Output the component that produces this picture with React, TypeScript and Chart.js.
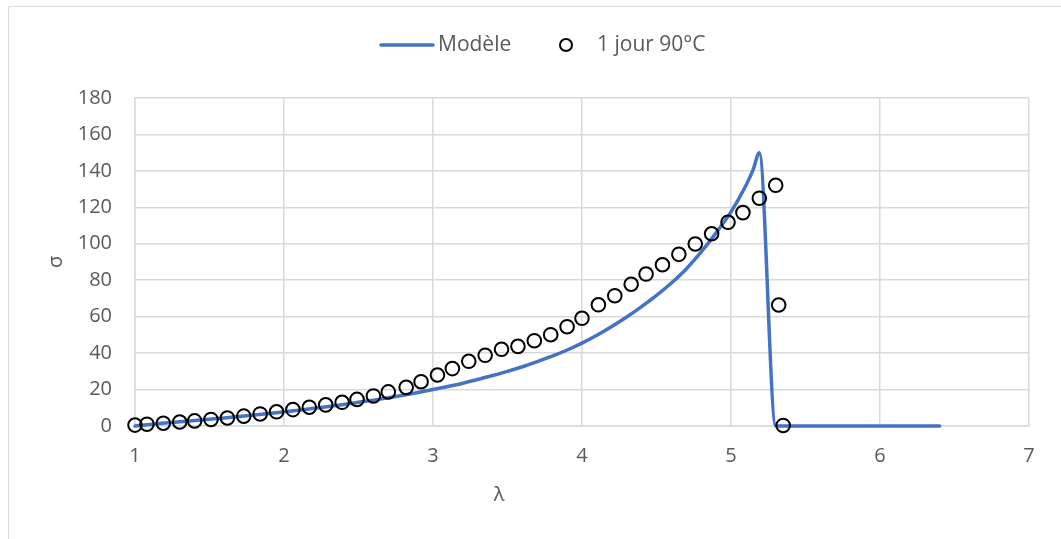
import React, { useEffect, useRef } from "react";
import { Chart, registerables } from "chart.js";

Chart.register(...registerables);

const modelLambda = [1.0, 1.1, 1.2, 1.3, 1.4, 1.5, 1.6, 1.7, 1.8, 1.9, 2.0, 2.1, 2.2, 2.3, 2.4, 2.5, 2.6, 2.7, 2.8, 2.9, 3.0, 3.1, 3.2, 3.3, 3.4, 3.5, 3.6, 3.7, 3.8, 3.9, 4.0, 4.1, 4.2, 4.3, 4.4, 4.5, 4.6, 4.7, 4.8, 4.9, 5.0, 5.1, 5.15, 5.19, 5.3, 6.4];
const modelSigma = [0, 0.8, 1.6, 2.3, 3.0, 3.7, 4.4, 5.2, 6.0, 6.9, 7.8, 8.7, 9.7, 10.7, 11.8, 13.0, 14.2, 15.5, 16.9, 18.4, 20.0, 21.7, 23.5, 25.5, 27.7, 30.0, 32.5, 35.3, 38.3, 41.7, 45.5, 49.8, 54.6, 59.8, 65.5, 71.7, 78.5, 86.2, 95.5, 106.0, 117.5, 132.0, 141.0, 150.0, 0, 0];

const expLambda = [1.0, 1.08, 1.19, 1.3, 1.4, 1.51, 1.62, 1.73, 1.84, 1.95, 2.06, 2.17, 2.28, 2.39, 2.49, 2.6, 2.7, 2.82, 2.92, 3.03, 3.13, 3.24, 3.35, 3.46, 3.57, 3.68, 3.79, 3.9, 4.0, 4.11, 4.22, 4.33, 4.43, 4.54, 4.65, 4.76, 4.87, 4.98, 5.08, 5.19, 5.3, 5.32, 5.35];
const expSigma = [0.5, 1.0, 1.5, 2.2, 2.8, 3.6, 4.4, 5.4, 6.6, 7.8, 9.0, 10.3, 11.6, 13.0, 14.6, 16.5, 18.7, 21.2, 24.3, 28.0, 31.5, 35.5, 38.8, 42.1, 43.7, 46.8, 50.1, 54.5, 59.1, 66.5, 71.5, 77.8, 83.4, 88.5, 94.2, 99.9, 105.5, 111.8, 117.1, 125.0, 132.1, 66.4, 0.3];

const seriesNames = ["Modèle", "1 jour 90°C"];
const xTitle = "λ";
const yTitle = "σ";

const FONT = "'Open Sans', 'Noto Sans', sans-serif";
const TEXT = "#595959";
const GRID = "#d9d9d9";
const BLUE = "#4472C4";

const legendPlugin = {
  id: "customLegend",
  afterDraw(chart: any) {
    const ctx = chart.ctx;
    const y = 45;
    ctx.save();
    ctx.font = `21px ${FONT}`;
    ctx.fillStyle = TEXT;
    ctx.textBaseline = "middle";
    ctx.textAlign = "left";
    ctx.strokeStyle = BLUE;
    ctx.lineWidth = 3.5;
    ctx.lineCap = "round";
    ctx.beginPath();
    ctx.moveTo(381, y);
    ctx.lineTo(433, y);
    ctx.stroke();
    ctx.fillText(seriesNames[0], 438, y);
    ctx.strokeStyle = "#000";
    ctx.lineWidth = 2;
    ctx.beginPath();
    ctx.arc(566, y, 6, 0, Math.PI * 2);
    ctx.stroke();
    ctx.fillText(seriesNames[1], 597, y);
    // x-axis title (Excel centres it on the whole chart, not on the plot)
    ctx.font = `20px ${FONT}`;
    ctx.textAlign = "center";
    ctx.fillText(xTitle, 499, 495);
    ctx.restore();
  },
};

export default function App() {
  const ref = useRef<HTMLCanvasElement>(null);
  useEffect(() => {
    if (!ref.current) return;
    const chart = new Chart(ref.current, {
      type: "scatter",
      data: {
        datasets: [
          {
            type: "line",
            label: seriesNames[0],
            data: modelLambda.map((x, i) => ({ x, y: modelSigma[i] })),
            borderColor: BLUE,
            backgroundColor: BLUE,
            borderWidth: 3.5,
            pointRadius: 0,
            cubicInterpolationMode: "monotone",
            borderCapStyle: "round",
            borderJoinStyle: "round",
            fill: false,
            clip: false,
            order: 1,
          } as any,
          {
            type: "scatter",
            label: seriesNames[1],
            data: expLambda.map((x, i) => ({ x, y: expSigma[i] })),
            borderColor: "#000",
            backgroundColor: "rgba(0,0,0,0)",
            borderWidth: 2,
            pointRadius: 6.8,
            pointStyle: "circle",
            clip: false,
            order: 0,
          } as any,
        ],
      },
      options: {
        animation: false,
        responsive: false,
        layout: { padding: { top: 98, right: 32, left: 0, bottom: 0 } },
        plugins: {
          legend: { display: false },
          tooltip: { enabled: false },
        },
        scales: {
          x: {
            type: "linear",
            min: 1,
            max: 7,
            afterFit: (s: any) => {
              s.height = 113;
            },
            ticks: {
              stepSize: 1,
              color: TEXT,
              font: { family: FONT, size: 20 },
              padding: 18,
            },
            grid: { color: GRID, lineWidth: 1.5, drawTicks: false },
            border: { color: GRID, width: 1.5 },
            title: { display: false, text: xTitle },
          },
          y: {
            type: "linear",
            min: 0,
            max: 180,
            afterFit: (s: any) => {
              s.width = 135;
            },
            ticks: {
              stepSize: 20,
              color: TEXT,
              font: { family: FONT, size: 20 },
              padding: 23,
            },
            grid: { color: GRID, lineWidth: 1.5, drawTicks: false },
            border: { color: GRID, width: 1.5 },
            title: {
              display: true,
              text: yTitle,
              color: TEXT,
              font: { family: FONT, size: 20 },
              padding: { top: 44, bottom: 0 },
            },
          },
        },
      },
      plugins: [legendPlugin],
    });
    return () => chart.destroy();
  }, []);
  return (
    <>
      <div
        style={{
          position: "fixed",
          left: 8,
          top: 6,
          width: 1100,
          height: 600,
          border: `1px solid ${GRID}`,
          background: "#fff",
        }}
      />
      <canvas
        ref={ref}
        width={1061}
        height={539}
        style={{ position: "fixed", left: 0, top: 0, width: 1061, height: 539 }}
      />
    </>
  );
}
